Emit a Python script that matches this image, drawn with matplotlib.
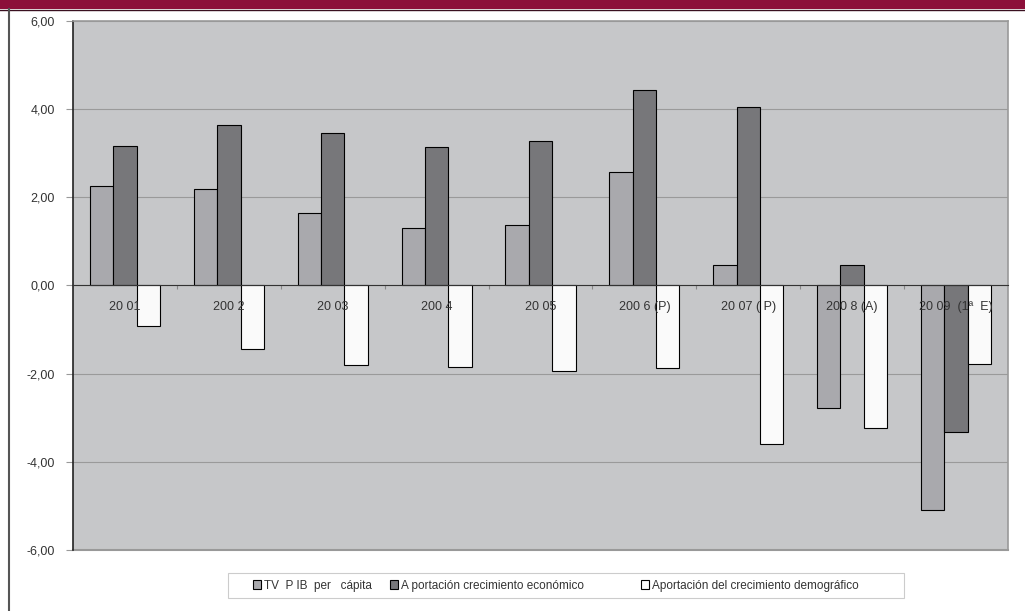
import matplotlib.pyplot as plt
import matplotlib.patches as mpatches
import numpy as np

plt.rcParams['font.family'] = ['Liberation Sans', 'DejaVu Sans']

# data
years = ['20 01', '200 2', '20 03', '200 4', '20 05', '200 6 (P)', '20 07 ( P)', '200 8 (A)', '20 09  (1ª  E)']
tv_pib = [2.26, 2.18, 1.65, 1.30, 1.37, 2.57, 0.47, -2.77, -5.10]
aport_econ = [3.17, 3.65, 3.45, 3.15, 3.28, 4.44, 4.06, 0.47, -3.33]
aport_demog = [-0.93, -1.45, -1.80, -1.86, -1.93, -1.88, -3.59, -3.24, -1.77]

labels = ['TV  P IB  per   cápita', 'A portación crecimiento económico',
          'Aportación del crecimiento demográfico']
colors = ['#a9a9ad', '#77777a', '#fafafa']

fig = plt.figure(figsize=(10.25, 6.11), dpi=100)
fig.patch.set_facecolor('white')

# maroon title strip and left rule
fig.patches.append(mpatches.Rectangle((0, 1 - 9/611), 1, 9/611, transform=fig.transFigure,
                                      facecolor='#8c0f3a', edgecolor='none'))
fig.lines.append(plt.Line2D([0, 1], [1 - 9.5/611, 1 - 9.5/611], transform=fig.transFigure,
                            color='#3a1020', lw=1))
fig.lines.append(plt.Line2D([8.5/1025, 8.5/1025], [0, 1 - 9/611], transform=fig.transFigure,
                            color='#555555', lw=1.5))

ax = fig.add_axes([73/1025, 61/611, 935/1025, 529/611])
ax.set_facecolor('#c6c7c9')

x = np.arange(len(years))
w = 0.225
b1 = ax.bar(x - w, tv_pib, w, color=colors[0], edgecolor='black', lw=0.8, zorder=3)
b2 = ax.bar(x, aport_econ, w, color=colors[1], edgecolor='black', lw=0.8, zorder=3)
b3 = ax.bar(x + w, aport_demog, w, color=colors[2], edgecolor='black', lw=0.8, zorder=3)

for xi, lab in zip(x, years):
    ax.text(xi, -0.48, lab, ha='center', va='center', fontsize=9, color='#333333', zorder=5)

ax.set_xlim(-0.5, len(years) - 0.5)
ax.set_ylim(-6, 6)
ax.set_yticks(np.arange(-6, 7, 2))
ax.yaxis.set_major_formatter(plt.FuncFormatter(lambda v, p: ('%.2f' % v).replace('.', ',')))
ax.tick_params(axis='y', length=5, color='#999999', labelsize=9, labelcolor='#333333', pad=8)
ax.grid(axis='y', color='#9a9a9a', lw=0.8, zorder=1)

# x axis sits on zero with small ticks at category boundaries
ax.spines['bottom'].set_position(('data', 0))
ax.spines['bottom'].set_color('#333333')
ax.spines['bottom'].set_zorder(4)
ax.set_xticks(x[:-1] + 0.5)
ax.set_xticklabels([])
ax.tick_params(axis='x', length=3, color='#888888', direction='out')
ax.spines['left'].set_color('#222222')
ax.spines['left'].set_linewidth(1.2)
for s in ['top', 'right']:
    ax.spines[s].set_color('#999999')
    ax.spines[s].set_linewidth(1.2)
ax.plot([0, 1], [0, 0], transform=ax.transAxes, color='#999999', lw=1.5, clip_on=False)

# legend box with three entries at fixed spots, as in the original
fig.patches.append(mpatches.Rectangle((228/1025, 1 - 598/611), 676/1025, 25/611,
                                      transform=fig.transFigure, facecolor='white',
                                      edgecolor='#cccccc', lw=0.8))
for bars, lab, lx in zip([b1, b2, b3], labels, [253, 390, 641]):
    leg = fig.legend([bars], [lab], loc='center left', bbox_to_anchor=(lx/1025, 1 - 585.5/611),
                     fontsize=8.5, frameon=False, handlelength=0.7, handleheight=0.7,
                     handletextpad=0.2, borderpad=0, borderaxespad=0)
    for t in leg.get_texts():
        t.set_color('#333333')

fig.savefig('out.png', dpi=100, facecolor='white')
